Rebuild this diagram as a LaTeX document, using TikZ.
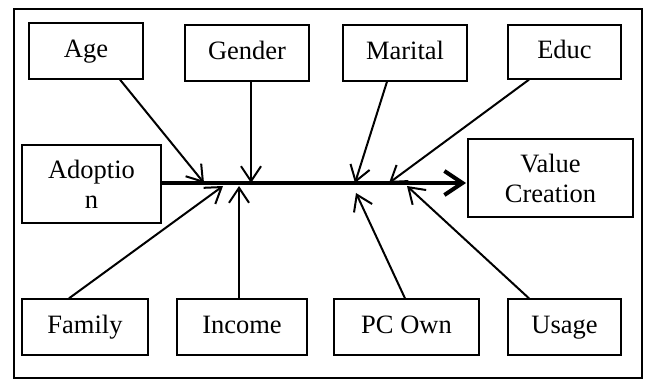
\documentclass[tikz,border=0pt]{standalone}
\usepackage{fontspec}
\setmainfont{Liberation Serif}
\usetikzlibrary{arrows.meta,calc}
\begin{document}
\begin{tikzpicture}[x=1pt,y=-1pt,
  box/.style={draw,line width=1.3pt,inner sep=0pt,align=center,font=\fontsize{26.5}{30}\selectfont},
  one/.style={box,text height=18pt,text depth=5.5pt},
  link/.style={line width=2pt,-{Straight Barb[length=15pt,width=20pt,line width=2pt]}},
  spine/.style={line width=4pt,-{Straight Barb[length=18pt,width=24pt,line width=4pt]}}]
\useasboundingbox (0,0) rectangle (647,379);
\draw[line width=1.7pt] (14,9) rectangle (642,378);
\node[one,minimum width=114pt,minimum height=56pt] (age) at (86,51) {Age};
\node[one,minimum width=124pt,minimum height=56pt] (gender) at (247,53) {Gender};
\node[one,minimum width=124pt,minimum height=56pt] (marital) at (405,53) {Marital};
\node[one,minimum width=113pt,minimum height=54pt] (educ) at (564.5,52) {Educ};
\node[box,minimum width=139pt,minimum height=78pt] (adoption) at (91.5,184) {Adoptio\\n};
\node[box,minimum width=165pt,minimum height=78pt] (value) at (550.5,178) {Value\\Creation};
\node[one,minimum width=126pt,minimum height=56pt] (family) at (85,327) {Family};
\node[one,minimum width=130pt,minimum height=56pt] (income) at (242,327) {Income};
\node[one,minimum width=145pt,minimum height=56pt] (pcown) at (406.5,327) {PC Own};
\node[one,minimum width=113pt,minimum height=56pt] (usage) at (564.5,327) {Usage};
\coordinate (tAge) at (204,183);
\coordinate (tGender) at (251,183);
\coordinate (tFamily) at (223,186);
\coordinate (tIncome) at (239,186);
\coordinate (tMarital) at (355,183);
\coordinate (tEduc) at (389,183);
\coordinate (tPC) at (356,193);
\coordinate (tUsage) at (407,186);
\coordinate (spineEnd) at (466,183);
\draw[spine] (adoption.east |- spineEnd) -- (spineEnd);
\draw[link] ([xshift=34pt]age.south) -- (tAge);
\draw[link] ([xshift=4pt]gender.south) -- (tGender);
\draw[link] ([xshift=-18pt]marital.south) -- (tMarital);
\draw[link] ([xshift=-35.5pt]educ.south) -- (tEduc);
\draw[link] ([xshift=-16pt]family.north) -- (tFamily);
\draw[link] ([xshift=-3pt]income.north) -- (tIncome);
\draw[link] ([xshift=-1.5pt]pcown.north) -- (tPC);
\draw[link] ([xshift=-35.5pt]usage.north) -- (tUsage);
\end{tikzpicture}
\end{document}
